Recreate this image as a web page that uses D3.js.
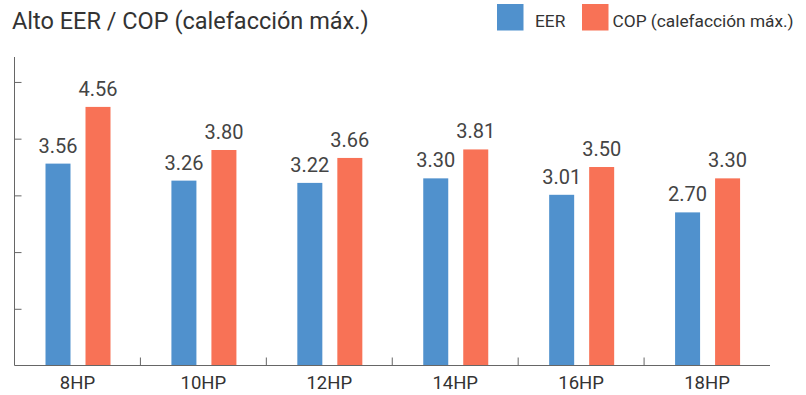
<!DOCTYPE html>
<html>
<head>
<meta charset="utf-8">
<script src="https://cdn.jsdelivr.net/npm/d3@7"></script>
<style>
  html, body { margin: 0; padding: 0; background: #fff; }
  svg { display: block; font-family: Roboto, "Noto Sans", sans-serif; }
</style>
</head>
<body>
<svg id="chart" width="806" height="395"></svg>
<script>
const categories = ["8HP", "10HP", "12HP", "14HP", "16HP", "18HP"];
const seriesNames = ["EER", "COP (calefacción máx.)"];
const eerValues = [3.56, 3.26, 3.22, 3.30, 3.01, 2.70];
const copValues = [4.56, 3.80, 3.66, 3.81, 3.50, 3.30];
const yTicks = [0, 1, 2, 3, 4, 5];
const titleText = "Alto EER / COP (calefacción máx.)";
const colors = ["#5091cd", "#f87256"];

(function () {
const svg = d3.select("#chart");
const mLeft = 14.5, mRight = 770, mTop = 57, mBottom = 365.5;

const x0 = d3.scaleBand().domain(categories).range([mLeft, mRight]).padding(0);
const x1 = d3.scaleBand().domain(seriesNames).range([31, 96]).paddingInner(0.375).paddingOuter(0);
const y = d3.scaleLinear().domain([0, 5.44]).range([mBottom, mTop]);

const data = categories.map((c, i) => ({ cat: c, vals: [eerValues[i], copValues[i]] }));

// title
svg.append("text").attr("x", 12).attr("y", 28.5)
  .attr("font-size", 23.5).attr("fill", "#333").text(titleText);

// legend
const legendItems = [
  { name: seriesNames[0], x: 497, color: colors[0] },
  { name: seriesNames[1], x: 582, color: colors[1] }
];
legendItems.forEach((d, i) => {
  svg.append("rect").attr("x", d.x).attr("y", 4).attr("width", 26.5).attr("height", 26.5).attr("fill", d.color);
  svg.append("text").attr("x", i === 0 ? d.x + 38 : d.x + 30.5).attr("y", 26.5)
    .attr("font-size", 17.3).attr("fill", "#333").text(d.name);
});

// bars
const groups = svg.append("g").selectAll("g").data(data).join("g")
  .attr("transform", d => `translate(${x0(d.cat)},0)`);

groups.selectAll("rect").data(d => d.vals.map((v, j) => ({ key: seriesNames[j], v, j })))
  .join("rect")
  .attr("x", d => x1(d.key))
  .attr("width", x1.bandwidth())
  .attr("y", d => y(d.v))
  .attr("height", d => y(0) - y(d.v))
  .attr("fill", d => colors[d.j]);

groups.selectAll("text.val").data(d => d.vals.map((v, j) => ({ key: seriesNames[j], v, j })))
  .join("text").attr("class", "val")
  .attr("x", d => x1(d.key) + x1.bandwidth() / 2)
  .attr("y", d => y(d.v) - 11)
  .attr("text-anchor", "middle")
  .attr("font-size", 20).attr("fill", "#444")
  .text(d => d.v.toFixed(2));

// y axis
const yAxis = svg.append("g").attr("transform", `translate(${mLeft},0)`)
  .call(d3.axisLeft(y).tickValues(yTicks.slice(1)).tickSize(-7).tickFormat(""));
yAxis.select(".domain").attr("d", `M0,${mTop}V${mBottom}`).attr("stroke", "#666");
yAxis.selectAll(".tick line").attr("stroke", "#666");

// x axis
const xAxis = svg.append("g").attr("transform", `translate(0,${mBottom})`)
  .call(d3.axisBottom(x0).tickSize(0).tickPadding(10.8));
xAxis.select(".domain").attr("d", `M${mLeft},0H${mRight}`).attr("stroke", "#666");
xAxis.selectAll(".tick text").attr("font-size", 18.5).attr("fill", "#333").attr("font-family", "Roboto, sans-serif");
svg.append("g").selectAll("line").data(categories.slice(1)).join("line")
  .attr("x1", d => x0(d)).attr("x2", d => x0(d))
  .attr("y1", mBottom).attr("y2", mBottom - 8)
  .attr("stroke", "#666");
})();
</script>
</body>
</html>
